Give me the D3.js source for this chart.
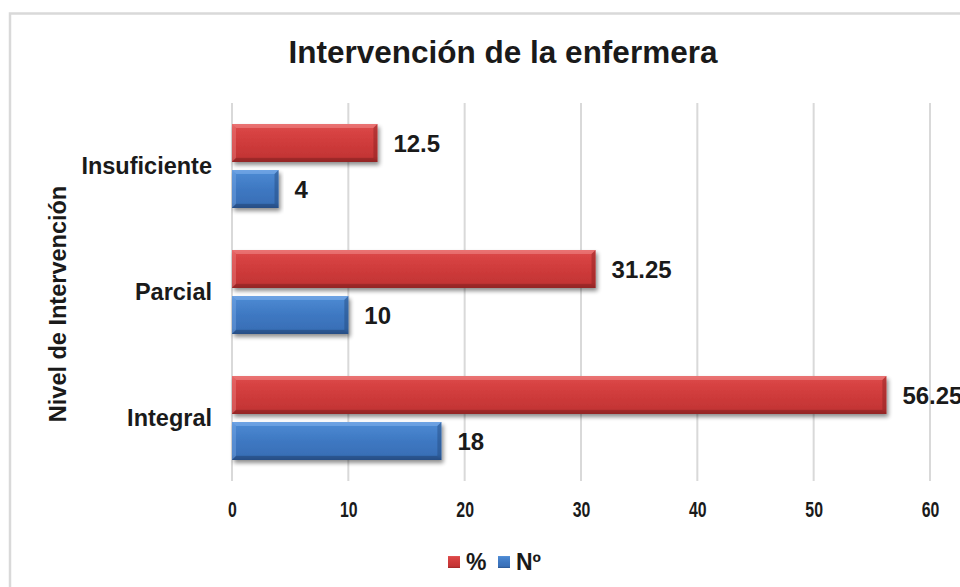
<!DOCTYPE html>
<html>
<head>
<meta charset="utf-8">
<script src="https://cdn.jsdelivr.net/npm/d3@7"></script>
<style>
  html, body { margin: 0; padding: 0; background: #fff; }
  svg { display: block; font-family: "Liberation Sans", Arial, sans-serif; }
</style>
</head>
<body>
<svg id="chart" width="960" height="587"></svg>
<script>
// Nursing intervention levels: percentage and count per level
const categories = ["Insuficiente", "Parcial", "Integral"];
const pctValues = [12.5, 31.25, 56.25];
const countValues = [4, 10, 18];
const seriesNames = ["%", "Nº"];
const xTicks = [0, 10, 20, 30, 40, 50, 60];

const svg = d3.select("#chart");

// Chart frame
svg.append("rect")
  .attr("x", 10).attr("y", 13.5)
  .attr("width", 980).attr("height", 600)
  .attr("fill", "#fff")
  .attr("stroke", "#d9d9d9").attr("stroke-width", 2.5);

const plot = { left: 232, right: 930, top: 103, bottom: 481 };

const x = d3.scaleLinear().domain([0, 60]).range([plot.left, plot.right]);
const y = d3.scaleBand().domain(categories).range([plot.top, plot.bottom]);

const defs = svg.append("defs");

function vGrad(id, stops) {
  const g = defs.append("linearGradient").attr("id", id)
    .attr("x1", 0).attr("y1", 0).attr("x2", 0).attr("y2", 1);
  stops.forEach(s => g.append("stop").attr("offset", s[0]).attr("stop-color", s[1]));
}
vGrad("gRed", [[0, "#e25858"], [0.12, "#da4646"], [0.5, "#cf3b3b"], [0.85, "#c43535"], [1, "#9e2828"]]);
vGrad("gBlue", [[0, "#5a93d8"], [0.12, "#4a87d0"], [0.5, "#3e78c2"], [0.85, "#3970b8"], [1, "#2a5590"]]);

const shadow = defs.append("filter").attr("id", "shadow")
  .attr("x", "-5%").attr("y", "-20%").attr("width", "115%").attr("height", "160%");
shadow.append("feGaussianBlur").attr("in", "SourceAlpha").attr("stdDeviation", 2.2).attr("result", "b");
shadow.append("feOffset").attr("in", "b").attr("dx", 2).attr("dy", 3).attr("result", "o");
shadow.append("feComponentTransfer").attr("in", "o").attr("result", "s")
  .append("feFuncA").attr("type", "linear").attr("slope", 0.45);
const merge = shadow.append("feMerge");
merge.append("feMergeNode").attr("in", "s");
merge.append("feMergeNode").attr("in", "SourceGraphic");

// Vertical gridlines
svg.append("g").selectAll("line").data(xTicks).join("line")
  .attr("x1", d => x(d)).attr("x2", d => x(d))
  .attr("y1", plot.top).attr("y2", plot.bottom)
  .attr("stroke", "#d9d9d9").attr("stroke-width", 2);

// Bars: two per category, % above and Nº below
const barH = 38, gap = 8;
const rows = categories.map((c, i) => ({ cat: c, pct: pctValues[i], n: countValues[i] }));
const series = [
  { key: "pct", fill: "url(#gRed)", light: "#f08a8a", dark: "#8a2222", offset: -gap / 2 - barH },
  { key: "n", fill: "url(#gBlue)", light: "#7fb0ec", dark: "#24497c", offset: gap / 2 }
];

const barsG = svg.append("g");
const labelsG = svg.append("g");
series.forEach(s => {
  const g = barsG.append("g");
  rows.forEach(r => {
    const y0 = y(r.cat) + y.bandwidth() / 2 + s.offset;
    const x0 = x(0), x1 = x(r[s.key]);
    const bar = g.append("g");
    bar.append("rect")
      .attr("x", x0).attr("y", y0).attr("width", x1 - x0).attr("height", barH)
      .attr("fill", s.fill).attr("filter", "url(#shadow)");
    const b = 4;
    // bevel: light top and left edges, dark bottom and right edges
    bar.append("path")
      .attr("d", `M${x0},${y0} L${x1},${y0} L${x1 - b},${y0 + b} L${x0 + b},${y0 + b} Z`)
      .attr("fill", s.light).attr("opacity", 0.55);
    bar.append("path")
      .attr("d", `M${x0},${y0} L${x0 + b},${y0 + b} L${x0 + b},${y0 + barH - b} L${x0},${y0 + barH} Z`)
      .attr("fill", s.light).attr("opacity", 0.4);
    bar.append("path")
      .attr("d", `M${x0},${y0 + barH} L${x0 + b},${y0 + barH - b} L${x1 - b},${y0 + barH - b} L${x1},${y0 + barH} Z`)
      .attr("fill", s.dark).attr("opacity", 0.55);
    bar.append("path")
      .attr("d", `M${x1},${y0} L${x1},${y0 + barH} L${x1 - b},${y0 + barH - b} L${x1 - b},${y0 + b} Z`)
      .attr("fill", s.dark).attr("opacity", 0.45);
    // value label
    labelsG.append("text")
      .attr("x", x1 + 16).attr("y", y0 + barH / 2)
      .attr("dy", "0.36em")
      .attr("font-size", 24).attr("font-weight", "bold").attr("fill", "#1a1a1a")
      .text(r[s.key]);
  });
});

// X axis tick labels (condensed)
const xAxis = d3.axisBottom(x).tickValues(xTicks).tickSize(0).tickPadding(0).tickFormat(d3.format("d"));
const xg = svg.append("g").attr("transform", `translate(0,${plot.bottom})`).call(xAxis);
xg.attr("font-size", null).attr("font-family", null);
xg.select(".domain").remove();
xg.selectAll("text")
  .attr("y", 0).attr("dy", "0.36em")
  .attr("transform", "translate(0,28) scale(0.72,1)")
  .attr("font-size", 22).attr("font-weight", "bold").attr("fill", "#1a1a1a");

// Y axis category labels
const yAxis = d3.axisLeft(y).tickSize(0).tickPadding(0);
const yg = svg.append("g").attr("transform", `translate(${plot.left},0)`).call(yAxis);
yg.attr("font-size", null).attr("font-family", null);
yg.select(".domain").remove();
yg.selectAll("text")
  .attr("x", -20).attr("dy", "0.34em")
  .attr("font-size", 23.5).attr("font-weight", "bold").attr("fill", "#1a1a1a");

// Y axis title
svg.append("text")
  .attr("transform", `translate(66,${(plot.top + plot.bottom) / 2 + 12}) rotate(-90)`)
  .attr("text-anchor", "middle")
  .attr("font-size", 23.5).attr("font-weight", "bold").attr("fill", "#1a1a1a")
  .text("Nivel de Intervención");

// Chart title
svg.append("text")
  .attr("x", 503).attr("y", 63)
  .attr("text-anchor", "middle")
  .attr("font-size", 31.5).attr("font-weight", "bold").attr("fill", "#1a1a1a")
  .text("Intervención de la enfermera");

// Legend
const legend = svg.append("g").attr("transform", "translate(448,562)");
const legendItems = [
  { name: seriesNames[0], fill: "url(#gRed)", dx: 0 },
  { name: seriesNames[1], fill: "url(#gBlue)", dx: 50 }
];
legendItems.forEach(it => {
  const g = legend.append("g").attr("transform", `translate(${it.dx},0)`);
  g.append("rect").attr("x", 0).attr("y", -6).attr("width", 12).attr("height", 12).attr("fill", it.fill);
  g.append("text").attr("x", 18).attr("y", 0).attr("dy", "0.36em")
    .attr("font-size", 23).attr("font-weight", "bold").attr("fill", "#1a1a1a")
    .text(it.name);
});
</script>
</body>
</html>
